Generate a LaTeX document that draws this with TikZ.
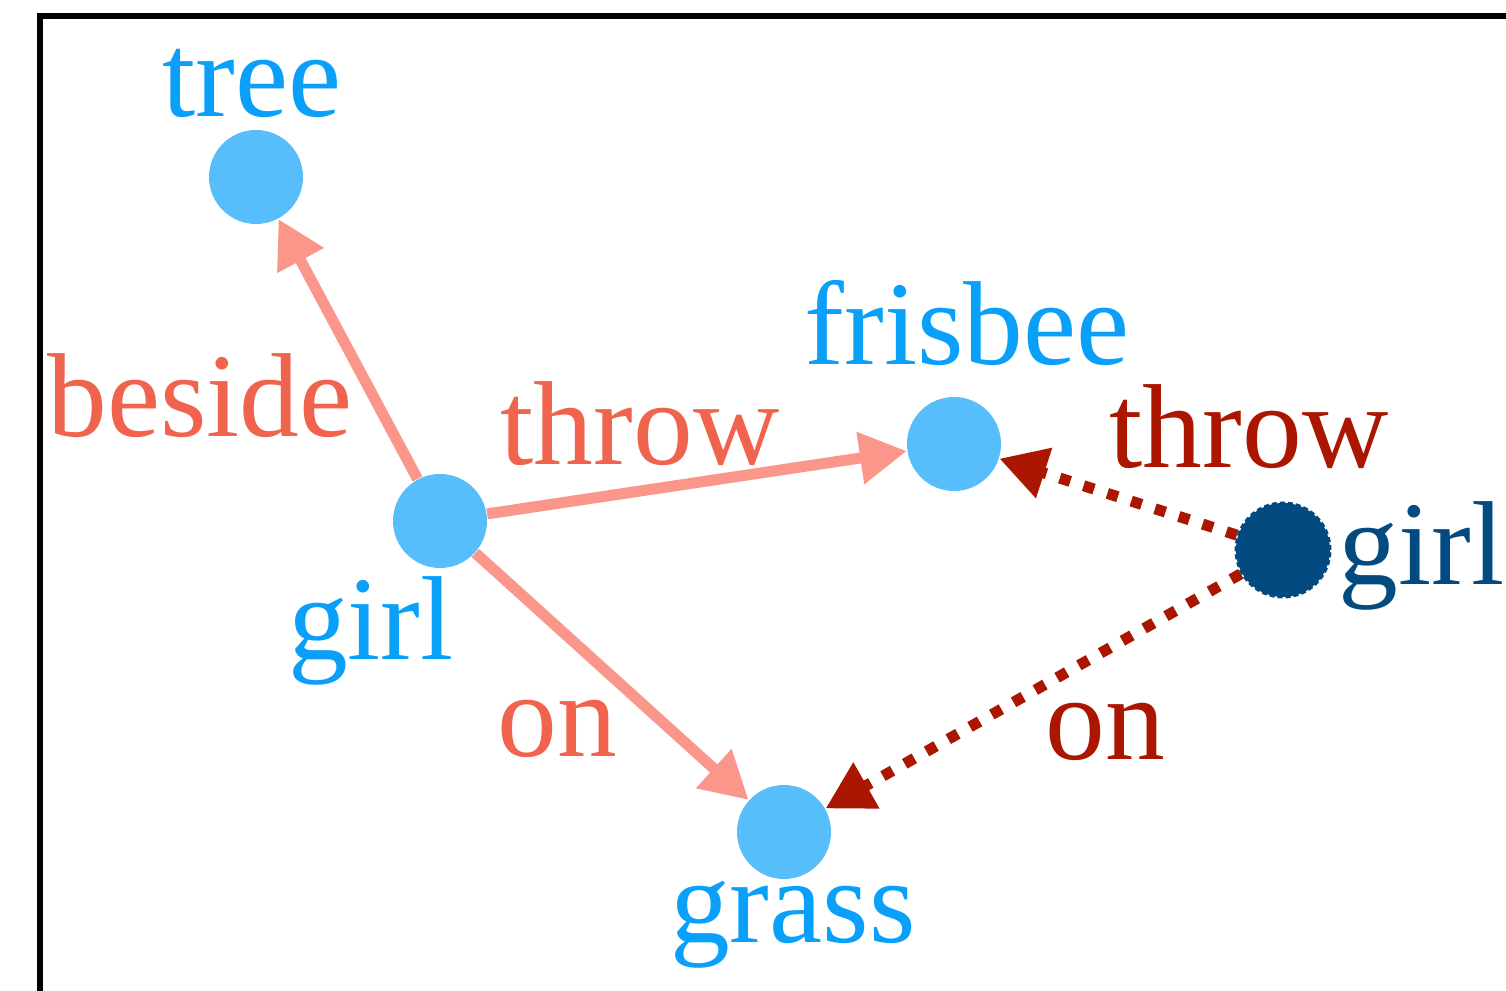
\documentclass[tikz,border=0pt]{standalone}
\usepackage{fontspec}
\setmainfont{Liberation Serif}
\usetikzlibrary{arrows.meta}

\definecolor{objfill}{RGB}{88,189,251}
\definecolor{objtext}{RGB}{10,160,250}
\definecolor{relline}{RGB}{250,150,138}
\definecolor{reltext}{RGB}{240,100,78}
\definecolor{newobj}{RGB}{3,74,128}
\definecolor{newrel}{RGB}{170,22,0}

\tikzset{
    obj/.style={circle, fill=objfill, minimum size=0.94cm, inner sep=0pt},
    newobjnode/.style={circle, fill=newobj, draw=newobj, dash pattern=on 0.05cm off 0.03cm, line width=0.03cm, minimum size=0.94cm, inner sep=0pt},
    word/.style={anchor=base, inner sep=0pt, font=\fontsize{34}{40}\selectfont},
    rel/.style={draw=relline, line width=0.11cm, -{Triangle[length=0.47cm, width=0.5cm]}},
    newrelline/.style={draw=newrel, line width=0.11cm, dash pattern=on 0.11cm off 0.14cm, -{Triangle[length=0.47cm, width=0.5cm]}}
}

\begin{document}
\begin{tikzpicture}
    \useasboundingbox (0,0) rectangle (15.06,-9.91);
    % frame, cut off on the right and at the bottom
    \draw[line width=0.06cm] (0.395,-10.2) -- (0.395,-0.16) -- (15.3,-0.16);

    % objects
    \node[obj] (tree) at (2.56,-1.77) {};
    \node[obj] (girl) at (4.40,-5.21) {};
    \node[obj] (frisbee) at (9.54,-4.44) {};
    \node[obj] (grass) at (7.84,-8.32) {};
    \node[newobjnode] (girlb) at (12.83,-5.50) {};

    \node[word, text=objtext] (treetext) at (2.52,-1.17) {tree};
    \node[word, text=objtext] (girltext) at (3.71,-6.60) {girl};
    \node[word, text=objtext] (frisbeetext) at (9.67,-3.65) {frisbee};
    \node[word, text=objtext] (grasstext) at (7.93,-9.43) {grass};
    \node[word, text=newobj, anchor=base west] (girlbtext) at (13.38,-5.85) {girl};

    % relations of the scene
    \draw[rel] (girl) -- (tree);
    \draw[rel] (girl) -- (frisbee);
    \draw[rel] (girl) -- (grass);
    \node[word, text=reltext] (beside) at (2.00,-4.37) {beside};
    \node[word, text=reltext] (throwa) at (6.40,-4.65) {throw};
    \node[word, text=reltext] (ona) at (5.57,-7.57) {on};

    % relations of the new girl
    \draw[newrelline] (girlb) -- (frisbee);
    \draw[newrelline] (girlb) -- (grass);
    \node[word, text=newrel] (throwb) at (12.49,-4.68) {throw};
    \node[word, text=newrel] (onb) at (11.05,-7.60) {on};
\end{tikzpicture}
\end{document}
